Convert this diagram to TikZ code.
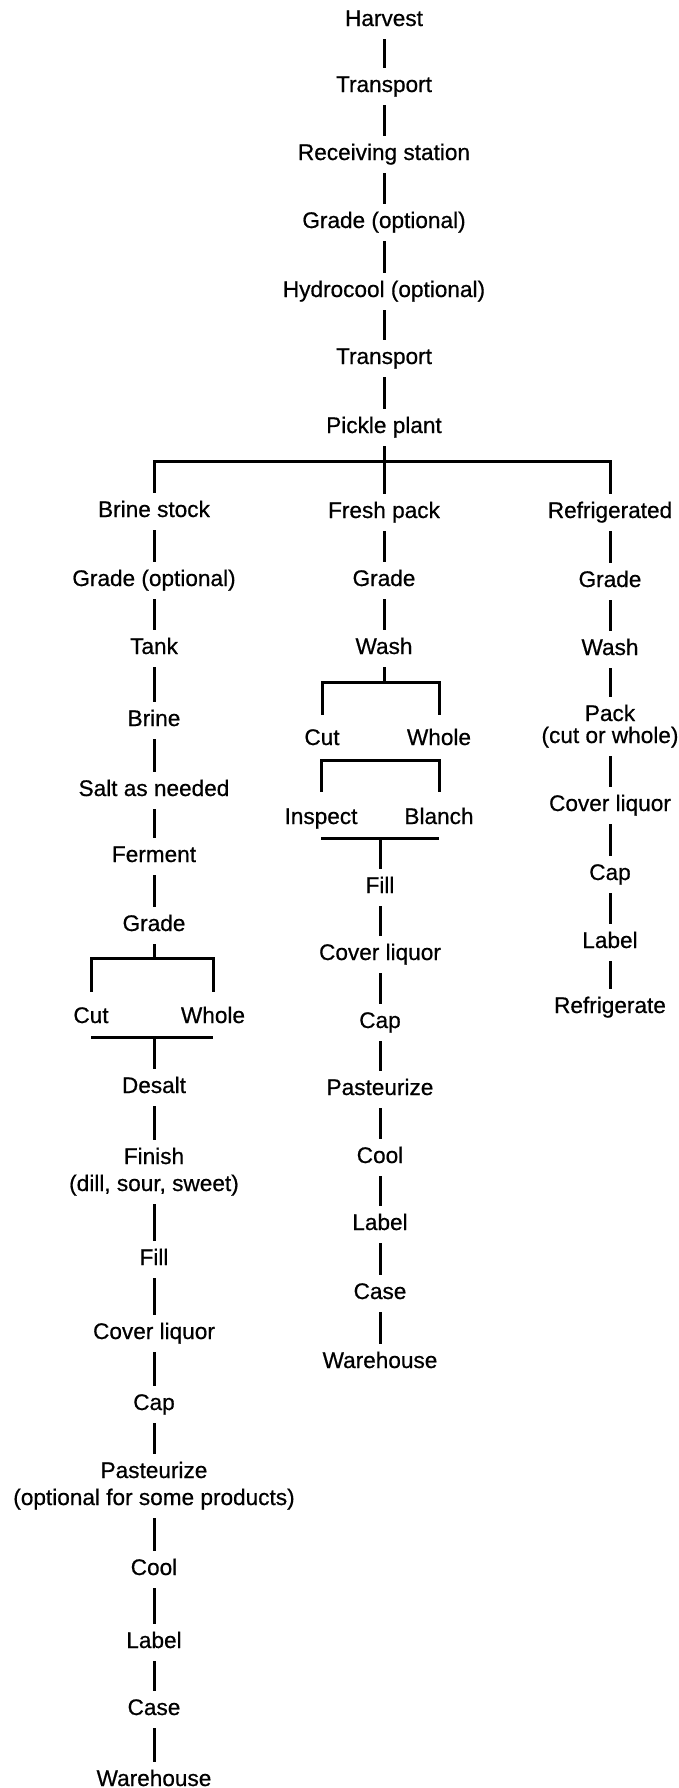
\documentclass[tikz,border=0pt]{standalone}
\usepackage{fontspec}
\setmainfont{Liberation Sans}
\newfontfamily\lblfont{Liberation Sans}[FakeBold=0.6]
\newcommand{\twol}[3][0pt]{\begin{tabular}[t]{@{}c@{}}#2\\[#1]#3\end{tabular}}
\begin{document}
\begin{tikzpicture}[x=0.5pt,y=-0.5pt,
  lbl/.style={anchor=base, font=\lblfont\fontsize{11.3}{13.5}\selectfont, text height=8pt, text depth=0pt, inner xsep=0pt, inner ysep=4pt},
  conn/.style={line width=1.5pt, shorten <=2.5pt},
  bar/.style={line width=1.5pt}]
\fill[white] (0,0) rectangle (679,1788);
\useasboundingbox (0,0) rectangle (679,1788);
% main column
\node[lbl] (harvest) at (384,26) {Harvest};
\node[lbl] (t1) at (384,92) {Transport};
\node[lbl] (recv) at (384,160) {Receiving station};
\node[lbl] (g0) at (384,228) {Grade (optional)};
\node[lbl] (hydro) at (384,297) {Hydrocool (optional)};
\node[lbl] (t2) at (384,364) {Transport};
\node[lbl] (pp) at (384,433) {Pickle plant};
% left column
\node[lbl] (bs) at (154,517) {Brine stock};
\node[lbl] (lg1) at (154,586) {Grade (optional)};
\node[lbl] (tank) at (154,654) {Tank};
\node[lbl] (brine) at (154,726) {Brine};
\node[lbl] (salt) at (154,796) {Salt as needed};
\node[lbl] (ferm) at (154,862) {Ferment};
\node[lbl] (lg2) at (154,931) {Grade};
\node[lbl] (lcut) at (91,1023) {Cut};
\node[lbl] (lwhole) at (213,1023) {Whole};
\node[lbl] (desalt) at (154,1093) {Desalt};
\node[lbl, text depth=13.5pt] (finish) at (154,1164) {\twol{Finish}{(dill, sour, sweet)}};
\node[lbl] (lfill) at (154,1265) {Fill};
\node[lbl] (lcover) at (154,1339) {Cover liquor};
\node[lbl] (lcap) at (154,1410) {Cap};
\node[lbl, text depth=13.5pt] (lpast) at (154,1478) {\twol{Pasteurize}{(optional for some products)}};
\node[lbl] (lcool) at (154,1575) {Cool};
\node[lbl] (llabel) at (154,1648) {Label};
\node[lbl] (lcase) at (154,1715) {Case};
\node[lbl] (lware) at (154,1786) {Warehouse};
% middle column
\node[lbl] (fp) at (384,518) {Fresh pack};
\node[lbl] (mg) at (384,586) {Grade};
\node[lbl] (wash) at (384,654) {Wash};
\node[lbl] (mcut) at (322,745) {Cut};
\node[lbl] (mwhole) at (439,745) {Whole};
\node[lbl] (insp) at (321,824) {Inspect};
\node[lbl] (blanch) at (439,824) {Blanch};
\node[lbl] (mfill) at (380,893) {Fill};
\node[lbl] (mcover) at (380,960) {Cover liquor};
\node[lbl] (mcap) at (380,1028) {Cap};
\node[lbl] (mpast) at (380,1095) {Pasteurize};
\node[lbl] (mcool) at (380,1163) {Cool};
\node[lbl] (mlabel) at (380,1230) {Label};
\node[lbl] (mcase) at (380,1299) {Case};
\node[lbl] (mware) at (380,1368) {Warehouse};
% right column
\node[lbl] (ref) at (610,518) {Refrigerated};
\node[lbl] (rg) at (610,587) {Grade};
\node[lbl] (rwash) at (610,655) {Wash};
\node[lbl, text depth=11pt] (pack) at (610,721) {\twol[-2.5pt]{Pack}{(cut or whole)}};
\node[lbl] (rcover) at (610,811) {Cover liquor};
\node[lbl] (rcap) at (610,880) {Cap};
\node[lbl] (rlabel) at (610,948) {Label};
\node[lbl] (rref) at (610,1013) {Refrigerate};
% straight connectors
\foreach \a/\b in {harvest/t1, t1/recv, recv/g0, g0/hydro, hydro/t2, t2/pp, pp/fp,
  bs/lg1, lg1/tank, tank/brine, brine/salt, salt/ferm, ferm/lg2,
  desalt/finish, finish/lfill, lfill/lcover, lcover/lcap, lcap/lpast, lpast/lcool, lcool/llabel, llabel/lcase, lcase/lware,
  fp/mg, mg/wash, mfill/mcover, mcover/mcap, mcap/mpast, mpast/mcool, mcool/mlabel, mlabel/mcase, mcase/mware,
  ref/rg, rg/rwash, rwash/pack, pack/rcover, rcover/rcap, rcap/rlabel, rlabel/rref}
  \draw[conn] (\a.south) -- (\b.north);
% branch after pickle plant
\coordinate (b1) at (384,461);
\draw[bar] (bs.north) |- (b1) -| (ref.north);
% fresh pack branches
\coordinate (b2) at (384,682);
\draw[conn] (wash.south) -- (b2);
\draw[bar, shorten <=3pt, shorten >=3pt] (mcut.north) |- (b2) -| (mwhole.north);
\coordinate (b3) at (380,760);
\draw[bar, shorten <=4pt, shorten >=4pt] (insp.north) |- (b3) -| (blanch.north);
\coordinate (b4) at (380,838);
\draw[bar] (insp |- b4) -- (blanch |- b4);
\draw[bar] (b4) -- (mfill.north);
% brine stock branches
\coordinate (b5) at (154,958);
\draw[conn] (lg2.south) -- (b5);
\draw[bar, shorten <=3.5pt, shorten >=3.5pt] (lcut.north) |- (b5) -| (lwhole.north);
\coordinate (b6) at (154,1037);
\draw[bar] (lcut |- b6) -- (lwhole |- b6);
\draw[bar] (b6) -- (desalt.north);
\end{tikzpicture}
\end{document}
